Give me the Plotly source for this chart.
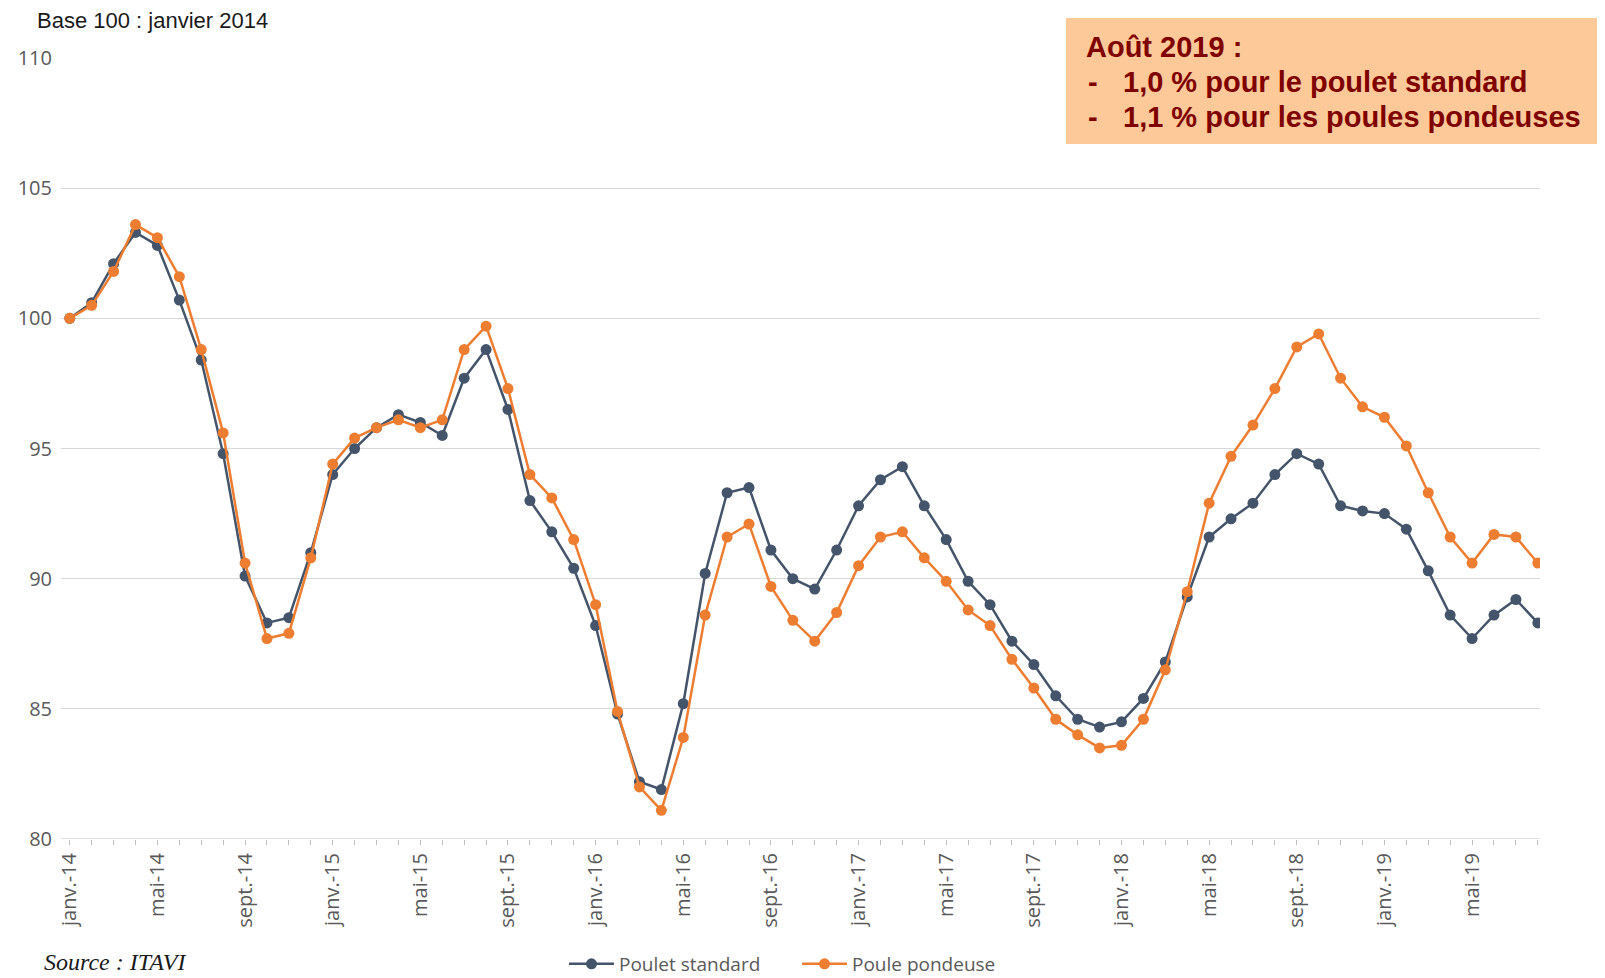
import plotly.graph_objects as go

mois_fr = ["janv.", "févr.", "mars", "avr.", "mai", "juin", "juil.", "août", "sept.", "oct.", "nov.", "déc."]
annees = ["14", "15", "16", "17", "18", "19"]
months = [f"{m}-{a}" for a in annees for m in mois_fr][:68]

poulet_standard = [
    100.0, 100.6, 102.1, 103.3, 102.8, 100.7, 98.4, 94.8, 90.1, 88.3, 88.5, 91.0,
    94.0, 95.0, 95.8, 96.3, 96.0, 95.5, 97.7, 98.8, 96.5, 93.0, 91.8, 90.4,
    88.2, 84.8, 82.2, 81.9, 85.2, 90.2, 93.3, 93.5, 91.1, 90.0, 89.6, 91.1,
    92.8, 93.8, 94.3, 92.8, 91.5, 89.9, 89.0, 87.6, 86.7, 85.5, 84.6, 84.3,
    84.5, 85.4, 86.8, 89.3, 91.6, 92.3, 92.9, 94.0, 94.8, 94.4, 92.8, 92.6,
    92.5, 91.9, 90.3, 88.6, 87.7, 88.6, 89.2, 88.3,
]
poule_pondeuse = [
    100.0, 100.5, 101.8, 103.6, 103.1, 101.6, 98.8, 95.6, 90.6, 87.7, 87.9, 90.8,
    94.4, 95.4, 95.8, 96.1, 95.8, 96.1, 98.8, 99.7, 97.3, 94.0, 93.1, 91.5,
    89.0, 84.9, 82.0, 81.1, 83.9, 88.6, 91.6, 92.1, 89.7, 88.4, 87.6, 88.7,
    90.5, 91.6, 91.8, 90.8, 89.9, 88.8, 88.2, 86.9, 85.8, 84.6, 84.0, 83.5,
    83.6, 84.6, 86.5, 89.5, 92.9, 94.7, 95.9, 97.3, 98.9, 99.4, 97.7, 96.6,
    96.2, 95.1, 93.3, 91.6, 90.6, 91.7, 91.6, 90.6,
]
y_ticks = [80, 85, 90, 95, 100, 105, 110]

x_idx = list(range(len(months)))
tick_text = [m if i % 4 == 0 else "" for i, m in enumerate(months)]

fig = go.Figure()
fig.add_trace(go.Scatter(
    x=x_idx, y=poulet_standard, name="Poulet standard", mode="lines+markers",
    line=dict(color="#44546A", width=2.5), marker=dict(color="#44546A", size=11),
))
fig.add_trace(go.Scatter(
    x=x_idx, y=poule_pondeuse, name="Poule pondeuse", mode="lines+markers",
    line=dict(color="#ED7D31", width=2.5), marker=dict(color="#ED7D31", size=11),
))

# page is offset by the browser's default 8px body margin
OFF = 8
PAGE_W, PAGE_H = 1605, 978
W, H = PAGE_W - OFF, PAGE_H - OFF
plot_left, plot_right, plot_top, plot_bottom = 61, 1540, 58, 839  # page pixels
L = plot_left - OFF
T = plot_top - OFF
R = PAGE_W - plot_right
B = PAGE_H - plot_bottom
pw, ph = W - L - R, H - T - B

def px_x(px):
    return (px - OFF - L) / pw

def px_y(py):
    return (H - B - (py - OFF)) / ph

red = "#800000"
box_font = dict(family="Liberation Sans, Arial", size=29, color=red)

fig.update_layout(
    width=W, height=H,
    margin=dict(l=L, r=R, t=T, b=B, autoexpand=False),
    paper_bgcolor="white", plot_bgcolor="white",
    font=dict(family="Open Sans, Lato, sans-serif", color="#595959", size=16),
    showlegend=True,
    legend=dict(orientation="h", xref="container", yref="container",
                x=(564 - OFF) / W, xanchor="left", y=1 - (964 - OFF) / H, yanchor="middle",
                font=dict(size=19, color="#595959", family="Open Sans, sans-serif"),
                itemwidth=45, entrywidth=173, entrywidthmode="pixels",
                bgcolor="rgba(0,0,0,0)"),
    xaxis=dict(
        range=[-0.4, 67.1], tickmode="array", tickvals=x_idx, ticktext=tick_text,
        tickangle=-90, ticks="outside", ticklen=5, tickcolor="#BFBFBF",
        showgrid=False, showline=False, zeroline=False, automargin=False,
        tickfont=dict(size=20, color="#595959"),
    ),
    yaxis=dict(
        range=[80, 110], tickvals=y_ticks, showgrid=True, gridcolor="#D9D9D9", gridwidth=1,
        zeroline=False, showline=False, ticks="", automargin=False,
        tickfont=dict(size=20, color="#595959"), ticklabelstandoff=8,
    ),
    shapes=[
        dict(type="line", xref="paper", yref="y", x0=0, x1=1, y0=80, y1=80,
             line=dict(color="#BFBFBF", width=1)),
        dict(type="rect", xref="paper", yref="paper", x0=px_x(1066), x1=px_x(1605),
             y0=px_y(144), y1=px_y(18), fillcolor="#FDC998", line=dict(width=0), layer="above"),
    ],
    annotations=[
        dict(text="Base 100 : janvier 2014", xref="paper", yref="paper", x=px_x(35), y=px_y(21),
             xanchor="left", yanchor="middle", showarrow=False,
             font=dict(family="Liberation Sans, Arial", size=22, color="#1a1a1a")),
        dict(text="<i>Source : ITAVI</i>", xref="paper", yref="paper", x=px_x(42), y=px_y(962),
             xanchor="left", yanchor="middle", showarrow=False,
             font=dict(family="Liberation Serif, Times New Roman, serif", size=24, color="#1a1a1a")),
        dict(text="<b>Août 2019 :</b>", xref="paper", yref="paper", x=px_x(1084), y=px_y(47),
             xanchor="left", yanchor="middle", showarrow=False, font=box_font),
        dict(text="<b>-</b>", xref="paper", yref="paper", x=px_x(1086), y=px_y(82),
             xanchor="left", yanchor="middle", showarrow=False, font=box_font),
        dict(text="<b>1,0 % pour le poulet standard</b>", xref="paper", yref="paper", x=px_x(1121), y=px_y(82),
             xanchor="left", yanchor="middle", showarrow=False, font=box_font),
        dict(text="<b>-</b>", xref="paper", yref="paper", x=px_x(1086), y=px_y(117),
             xanchor="left", yanchor="middle", showarrow=False, font=box_font),
        dict(text="<b>1,1 % pour les poules pondeuses</b>", xref="paper", yref="paper", x=px_x(1121), y=px_y(117),
             xanchor="left", yanchor="middle", showarrow=False, font=box_font),
    ],
)

fig.write_html("out.html")
